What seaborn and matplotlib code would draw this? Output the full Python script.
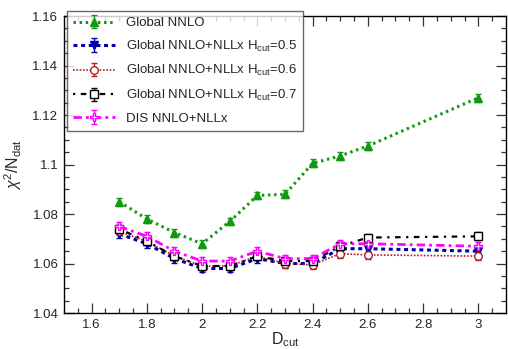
import numpy as np
import pandas as pd
import matplotlib
matplotlib.use("Agg")
import matplotlib.pyplot as plt
import seaborn as sns
from matplotlib.legend_handler import HandlerTuple

# D_cut values and chi2/N_dat for each fit
d_cut = [1.7, 1.8, 1.9, 2.0, 2.1, 2.2, 2.3, 2.4, 2.5, 2.6, 3.0]
global_nnlo = [1.085, 1.078, 1.0725, 1.068, 1.077, 1.0875, 1.088, 1.1005, 1.1035, 1.1075, 1.127]
nllx_h05 = [1.072, 1.068, 1.062, 1.058, 1.058, 1.062, 1.060, 1.060, 1.066, 1.066, 1.065]
nllx_h06 = [1.073, 1.069, 1.063, 1.059, 1.059, 1.063, 1.060, 1.0595, 1.064, 1.0635, 1.063]
nllx_h07 = [1.074, 1.069, 1.063, 1.059, 1.059, 1.063, 1.061, 1.061, 1.067, 1.0705, 1.071]
dis_nllx = [1.075, 1.071, 1.065, 1.061, 1.061, 1.065, 1.062, 1.062, 1.068, 1.068, 1.067]
err = 0.0016

labels = [
    "Global NNLO",
    r"Global NNLO+NLLx H$_{\mathrm{cut}}$=0.5",
    r"Global NNLO+NLLx H$_{\mathrm{cut}}$=0.6",
    r"Global NNLO+NLLx H$_{\mathrm{cut}}$=0.7",
    "DIS NNLO+NLLx",
]
series = [global_nnlo, nllx_h05, nllx_h06, nllx_h07, dis_nllx]

styles = [
    dict(color="#119911", marker="^", mfc="#119911", ls=(0, (0.8, 1.2)), lw=2.2, ms=5.5),
    dict(color="#0000aa", marker="v", mfc="#0000aa", ls=(0, (1.3, 1.2)), lw=2.2, ms=5.5),
    dict(color="#b02020", marker="o", mfc="white", ls=(0, (1, 1)), lw=1.2, ms=5.5),
    dict(color="black", marker="s", mfc="white", ls=(0, (1, 2.5, 2.5, 2.5)), lw=1.6, ms=5.5),
    dict(color="#ff00ff", marker="P", mfc="white", ls=(0, (3, 1.5, 1, 1.5)), lw=2.0, ms=6),
]

sns.set_style("ticks")
plt.rcParams["font.family"] = ["Liberation Sans", "DejaVu Sans"]
plt.rcParams["mathtext.fontset"] = "custom"
plt.rcParams["mathtext.rm"] = "Liberation Sans"
plt.rcParams["mathtext.it"] = "Liberation Sans:italic"

fig = plt.figure(figsize=(5.08, 3.49), dpi=100)
ax = fig.add_axes([0.126, 0.103, 0.870, 0.851])

handles = []
for vals, lab, st in zip(series, labels, styles):
    df = pd.DataFrame({"D": d_cut, "chi2": vals})
    sns.lineplot(data=df, x="D", y="chi2", ax=ax, color=st["color"],
                 linestyle=st["ls"], linewidth=st["lw"], marker=st["marker"],
                 markersize=st["ms"], markerfacecolor=st["mfc"],
                 markeredgecolor=st["color"], markeredgewidth=1.0,
                 legend=False, zorder=3)
    line = ax.lines[-1]
    eb = ax.errorbar(d_cut, vals, yerr=err, fmt="none", ecolor=st["color"],
                     elinewidth=1.0, capsize=2.5, capthick=1.0, zorder=2)
    handles.append((eb, line))

ax.set_xlim(1.5, 3.1)
ax.set_ylim(1.04, 1.16)
ax.set_xticks([1.6, 1.8, 2.0, 2.2, 2.4, 2.6, 2.8, 3.0])
ax.set_xticklabels(["1.6", "1.8", "2", "2.2", "2.4", "2.6", "2.8", "3"])
ax.set_yticks([1.04, 1.06, 1.08, 1.10, 1.12, 1.14, 1.16])
ax.set_yticklabels(["1.04", "1.06", "1.08", "1.1", "1.12", "1.14", "1.16"])
ax.set_xticks(np.arange(1.55, 3.1, 0.05), minor=True)
ax.set_yticks(np.arange(1.045, 1.16, 0.005), minor=True)
ax.tick_params(which="both", direction="in", top=True, right=True,
               labelsize=9.5, width=0.9, color="#333333")
ax.tick_params(which="major", length=7, pad=4)
ax.tick_params(which="minor", length=3.5)
for sp in ax.spines.values():
    sp.set_linewidth(1.0)
    sp.set_color("black")

ax.set_xlabel(r"D$_{\mathrm{cut}}$", fontsize=11.5, labelpad=0)
ax.set_ylabel(r"$\chi^2$/N$_{\mathrm{dat}}$", fontsize=11.5, labelpad=6)

leg = fig.legend(handles, labels, loc="upper left",
                 bbox_to_anchor=(67 / 508, 1 - 11 / 349),
                 fontsize=9.5, frameon=True, fancybox=False,
                 handlelength=3.2, handletextpad=0.8, labelspacing=0.72,
                 borderpad=0.45, borderaxespad=0.0,
                 handler_map={tuple: HandlerTuple(ndivide=1)})
leg.get_frame().set_edgecolor("#444444")
leg.get_frame().set_linewidth(1.0)
leg.set_zorder(5)

fig.savefig("out.png", dpi=100)
